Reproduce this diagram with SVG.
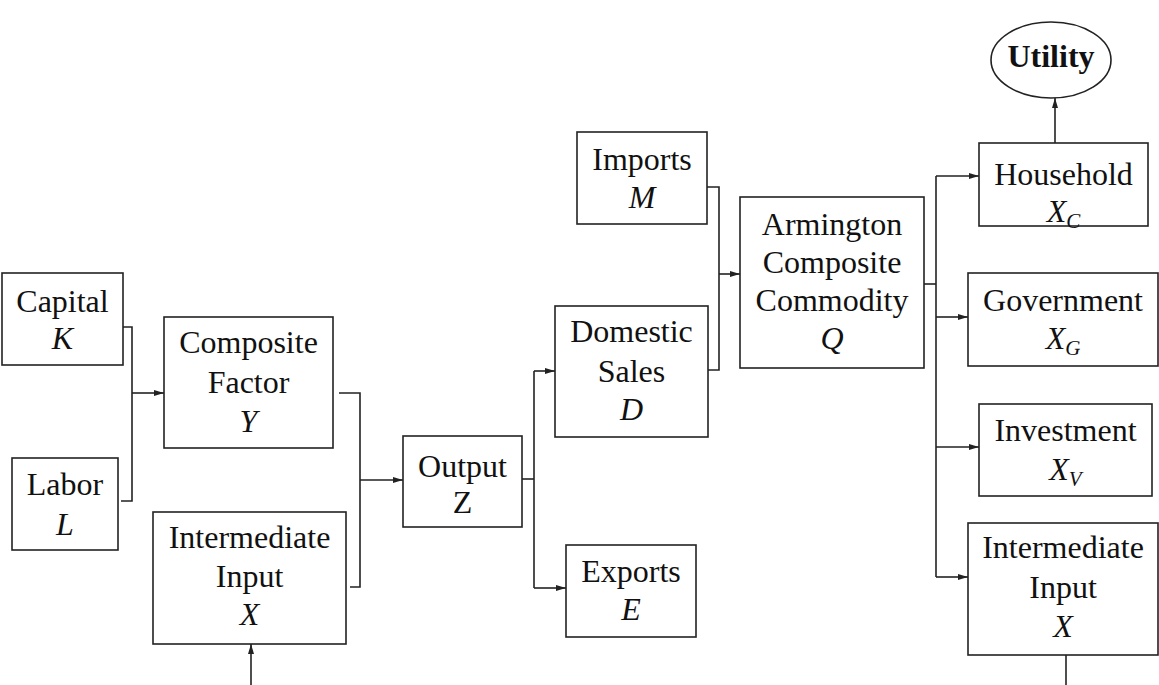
<svg xmlns="http://www.w3.org/2000/svg" width="1159" height="685" viewBox="0 0 1159 685">
<style>
rect.box{fill:#fff;stroke:#222;stroke-width:1.6}
ellipse.box{fill:#fff;stroke:#222;stroke-width:1.6}
text{font-family:"Liberation Serif","Times New Roman",serif;font-size:32px;fill:#111;text-anchor:middle}
.it{font-style:italic}
.b{font-weight:bold}
.sub{font-size:21px;font-style:italic}
.conn path{fill:none;stroke:#222;stroke-width:1.6}
</style>
<defs>
<marker id="ah" viewBox="0 0 10 6" refX="10" refY="3" markerWidth="10" markerHeight="6" markerUnits="userSpaceOnUse" orient="auto">
<path d="M0,0 L10,3 L0,6 z" fill="#222"/>
</marker>
</defs>
<rect width="1159" height="685" fill="#fff"/>
<g class="conn">
<path d="M122,327 H132 V501 H121"/>
<path d="M132,393 H164" marker-end="url(#ah)"/>
<path d="M339,393 H360 V587 H350"/>
<path d="M360,480 H403" marker-end="url(#ah)"/>
<path d="M251,685 V644" marker-end="url(#ah)"/>
<path d="M522,479 H534"/>
<path d="M534,371 V588"/>
<path d="M534,371 H555" marker-end="url(#ah)"/>
<path d="M534,588 H566" marker-end="url(#ah)"/>
<path d="M707,187 H719 V370 H708"/>
<path d="M719,274 H740" marker-end="url(#ah)"/>
<path d="M924,284 H936"/>
<path d="M936,176 V577"/>
<path d="M936,176 H979" marker-end="url(#ah)"/>
<path d="M936,317 H968" marker-end="url(#ah)"/>
<path d="M936,447 H979" marker-end="url(#ah)"/>
<path d="M936,577 H968" marker-end="url(#ah)"/>
<path d="M1055,143 V98" marker-end="url(#ah)"/>
<path d="M1066,655 V685"/>
</g>
<g id="capital">
<rect class="box" x="2" y="273" width="121" height="92"/>
<text x="62.5" y="312">Capital</text>
<text x="62.5" y="349" class="it">K</text>
</g>
<g id="labor">
<rect class="box" x="12" y="458" width="106" height="92"/>
<text x="65" y="495">Labor</text>
<text x="65" y="535" class="it">L</text>
</g>
<g id="composite">
<rect class="box" x="164" y="317" width="169" height="131"/>
<text x="248.5" y="353">Composite</text>
<text x="248.5" y="393">Factor</text>
<text x="248.5" y="432" class="it">Y</text>
</g>
<g id="intermediate-left">
<rect class="box" x="153" y="512" width="193" height="132"/>
<text x="249.5" y="548">Intermediate</text>
<text x="249.5" y="587">Input</text>
<text x="249.5" y="625" class="it">X</text>
</g>
<g id="output">
<rect class="box" x="403" y="436" width="119" height="91"/>
<text x="462.5" y="477">Output</text>
<text x="462.5" y="513">Z</text>
</g>
<g id="imports">
<rect class="box" x="577" y="132" width="130" height="92"/>
<text x="642" y="170">Imports</text>
<text x="642" y="208" class="it">M</text>
</g>
<g id="domestic">
<rect class="box" x="555" y="306" width="153" height="131"/>
<text x="631.5" y="342">Domestic</text>
<text x="631.5" y="382">Sales</text>
<text x="631.5" y="420" class="it">D</text>
</g>
<g id="exports">
<rect class="box" x="566" y="545" width="130" height="92"/>
<text x="631" y="582">Exports</text>
<text x="631" y="620" class="it">E</text>
</g>
<g id="armington">
<rect class="box" x="740" y="197" width="184" height="171"/>
<text x="832" y="235">Armington</text>
<text x="832" y="273">Composite</text>
<text x="832" y="311">Commodity</text>
<text x="832" y="349" class="it">Q</text>
</g>
<g id="utility">
<ellipse class="box" cx="1051" cy="60" rx="60" ry="38"/>
<text x="1051" y="67" class="b">Utility</text>
</g>
<g id="household">
<rect class="box" x="979" y="143" width="169" height="83"/>
<text x="1063.5" y="185">Household</text>
<text x="1063.5" y="222"><tspan class="it">X</tspan><tspan class="sub" dy="6">C</tspan></text>
</g>
<g id="government">
<rect class="box" x="968" y="273" width="190" height="93"/>
<text x="1063" y="311">Government</text>
<text x="1063" y="349"><tspan class="it">X</tspan><tspan class="sub" dy="6">G</tspan></text>
</g>
<g id="investment">
<rect class="box" x="979" y="404" width="173" height="92"/>
<text x="1065.5" y="441">Investment</text>
<text x="1065.5" y="480"><tspan class="it">X</tspan><tspan class="sub" dy="6">V</tspan></text>
</g>
<g id="intermediate-right">
<rect class="box" x="968" y="523" width="190" height="132"/>
<text x="1063" y="558">Intermediate</text>
<text x="1063" y="598">Input</text>
<text x="1063" y="637" class="it">X</text>
</g>
</svg>
